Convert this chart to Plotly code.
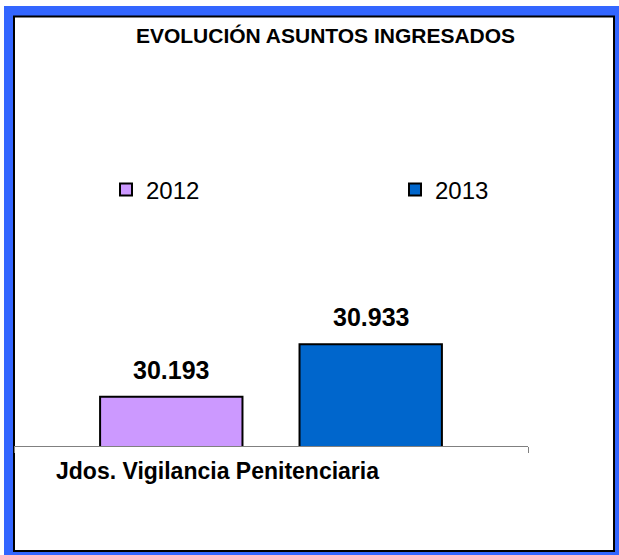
import plotly.graph_objects as go

# ---- data ----
categories = ["Jdos. Vigilancia Penitenciaria"]
years = ["2012", "2013"]
values_2012 = [30193]
values_2013 = [30933]
series_values = [values_2012, values_2013]
colors = ["#CC99FF", "#0066CC"]
title_text = "EVOLUCIÓN ASUNTOS INGRESADOS"

W, H = 619, 555
PL, PR = 14, 528      # plot area left/right (px)
PT, PB = 304, 446     # plot area top/bottom (px)
Y_RANGE = [29500, 31500]

def px_x(x):
    return (x - PL) / (PR - PL)

def px_y(y):
    return (PB - y) / (PB - PT)

FONT = "Liberation Sans, Arial, sans-serif"

legend_names = ["legend", "legend2"]
legend_x_px = [106, 395]

fig = go.Figure()
for name, vals, col, lg in zip(years, series_values, colors, legend_names):
    fig.add_trace(go.Bar(
        x=categories, y=vals, name=name, legend=lg,
        marker=dict(color=col, line=dict(color="black", width=2)),
    ))

# value labels above bars
group_w = (PR - PL) * (1 - 0.224)
slot = group_w / len(years)
for i, vals in enumerate(series_values):
    for c, v in zip(categories, vals):
        fig.add_annotation(
            x=c, y=v, xref="x", yref="y",
            text=f"<b>{v:,}</b>".replace(",", "."),
            showarrow=False, xshift=(i - (len(years) - 1) / 2) * slot,
            yshift=27, yanchor="middle",
            font=dict(family=FONT, size=25, color="black"),
        )

# category label
fig.add_annotation(
    x=px_x(217), y=px_y(471), xref="paper", yref="paper",
    text=f"<b>{categories[0]}</b>", showarrow=False,
    xanchor="center", yanchor="middle",
    font=dict(family=FONT, size=23, color="black"),
)

# frame shapes
fig.add_shape(type="rect", xref="paper", yref="paper", layer="below",
              x0=px_x(4), x1=px_x(619), y0=px_y(555), y1=px_y(6),
              fillcolor="#3366FF", line=dict(width=0))
fig.add_shape(type="rect", xref="paper", yref="paper", layer="below",
              x0=px_x(14), x1=px_x(614), y0=px_y(551), y1=px_y(16.5),
              fillcolor="white", line=dict(color="black", width=2))

legend_common = dict(orientation="h", xanchor="left", yanchor="middle",
                     y=px_y(190), bgcolor="rgba(0,0,0,0)",
                     font=dict(family=FONT, size=24, color="black"))

fig.update_layout(
    width=W, height=H,
    margin=dict(l=PL, r=W - PR, t=PT, b=H - PB, pad=0),
    paper_bgcolor="white", plot_bgcolor="rgba(0,0,0,0)",
    barmode="group", bargap=0.224, bargroupgap=0.286,
    title=dict(text=f"<b>{title_text}</b>", x=325.5 / W, xanchor="center",
               y=1 - 35.5 / H, yanchor="middle",
               font=dict(family=FONT, size=21, color="black")),
    legend=dict(x=px_x(legend_x_px[0]), **legend_common),
    legend2=dict(x=px_x(legend_x_px[1]), **legend_common),
    showlegend=True,
    font=dict(family=FONT),
    xaxis=dict(showline=True, linecolor="#808080", linewidth=1,
               showticklabels=False, ticks="outside", tickson="boundaries",
               ticklen=6, tickcolor="#808080", showgrid=False, zeroline=False),
    yaxis=dict(range=Y_RANGE, visible=False, showgrid=False, zeroline=False),
)

fig.write_html("out.html", config={"displayModeBar": False},
               post_script="document.body.style.margin='0';document.body.style.overflow='hidden';")
